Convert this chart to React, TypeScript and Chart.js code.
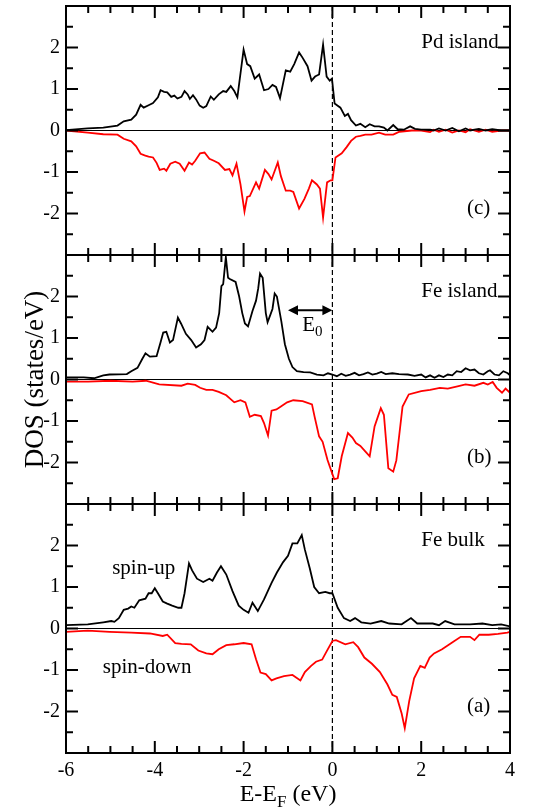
import React, { useEffect, useRef } from 'react';
import { Chart, registerables } from 'chart.js';

Chart.register(...registerables);

// ---------- Panel (c): Pd island ----------
const pdUpE = [
  -6.0, -5.51, -5.16, -4.84, -4.7, -4.53, -4.42, -4.32, -4.25, -4.14,
  -4.04, -3.93, -3.87, -3.79, -3.72, -3.63, -3.56, -3.49, -3.4, -3.33,
  -3.26, -3.21, -3.14, -3.07, -2.99, -2.91, -2.84, -2.74, -2.67, -2.56,
  -2.46, -2.39, -2.29, -2.21, -2.14, -2.0, -1.92, -1.85, -1.75, -1.65,
  -1.54, -1.44, -1.35, -1.27, -1.18, -1.05, -0.95, -0.86, -0.75, -0.67,
  -0.56, -0.47, -0.39, -0.3, -0.21, -0.13, -0.06, -0.01, 0.05, 0.18,
  0.28, 0.35, 0.42, 0.53, 0.63, 0.74, 0.84, 0.95, 1.05, 1.16,
  1.24, 1.37, 1.47, 1.61, 1.75, 1.86, 2.0, 2.2, 2.28, 2.4,
  2.55, 2.7, 2.85, 3.0, 3.1, 3.3, 3.45, 3.6, 3.8, 4.0,
];
const pdUpDos = [
  0.01, 0.05, 0.07, 0.12, 0.22, 0.26, 0.38, 0.62, 0.55, 0.61,
  0.66, 0.8, 0.97, 0.93, 0.92, 0.81, 0.84, 0.77, 0.81, 0.95,
  0.87, 0.76, 0.85, 0.75, 0.6, 0.55, 0.59, 0.82, 0.74, 0.87,
  0.95, 0.93, 1.07, 0.95, 0.8, 1.95, 1.6, 1.55, 1.25, 1.35,
  0.97, 1.0, 1.1, 1.05, 0.78, 1.45, 1.42, 1.6, 1.88, 1.75,
  1.55, 1.2, 1.3, 1.35, 2.07, 1.3, 1.2, 1.25, 0.65, 0.55,
  0.35, 0.4, 0.25, 0.12, 0.16, 0.08, 0.15, 0.1, 0.1, 0.07,
  0.0, 0.13, 0.03, 0.02, 0.1, 0.04, 0.02, 0.02, 0.0, 0.05,
  0.0, 0.06, -0.02, 0.05, 0.0, 0.04, 0.0, 0.03, 0.0, 0.0,
];
const pdDnE = [
  -6.0, -5.51, -5.16, -4.84, -4.7, -4.53, -4.42, -4.32, -4.23, -4.14,
  -4.04, -3.96, -3.89, -3.79, -3.74, -3.65, -3.54, -3.44, -3.33, -3.23,
  -3.16, -3.09, -2.98, -2.88, -2.77, -2.67, -2.56, -2.42, -2.32, -2.25,
  -2.16, -2.07, -1.98, -1.92, -1.86, -1.72, -1.65, -1.52, -1.44, -1.37,
  -1.23, -1.16, -1.05, -0.95, -0.88, -0.75, -0.63, -0.53, -0.46, -0.35,
  -0.28, -0.21, -0.12, -0.04, 0.0, 0.07, 0.21, 0.32, 0.42, 0.53,
  0.63, 0.74, 0.88, 1.05, 1.19, 1.37, 1.51, 1.79, 2.0, 2.2,
  2.28, 2.4, 2.55, 2.7, 2.85, 3.0, 3.1, 3.3, 3.45, 3.6,
  3.8, 4.0,
];
const pdDnDos = [
  0.0, -0.05, -0.09, -0.1, -0.2, -0.26, -0.38, -0.56, -0.6, -0.63,
  -0.65, -0.78, -0.95, -0.92, -0.97, -0.8, -0.75, -0.8, -0.97, -0.77,
  -0.82, -0.73, -0.55, -0.53, -0.68, -0.73, -0.79, -0.95, -0.93, -1.08,
  -0.8, -1.3, -1.95, -1.6, -1.58, -1.25, -1.4, -0.95, -1.05, -1.18,
  -0.77, -1.1, -1.45, -1.45, -1.48, -1.88, -1.65, -1.4, -1.2, -1.3,
  -1.4, -2.1, -1.25, -1.2, -1.2, -0.65, -0.55, -0.4, -0.25, -0.15,
  -0.13, -0.1, -0.1, -0.05, -0.1, -0.1, -0.03, 0.0, 0.0, -0.04,
  0.02, -0.03, 0.02, -0.05, 0.0, -0.04, 0.03, -0.03, 0.02, -0.03,
  0.0, 0.0,
];

// ---------- Panel (b): Fe island ----------
const feUpE = [
  -6.0, -5.6, -5.37, -5.16, -5.02, -4.63, -4.53, -4.39, -4.28, -4.21,
  -4.11, -3.96, -3.87, -3.81, -3.74, -3.66, -3.59, -3.48, -3.41, -3.3,
  -3.18, -3.07, -2.96, -2.88, -2.81, -2.7, -2.62, -2.55, -2.5, -2.46,
  -2.4, -2.35, -2.31, -2.18, -2.1, -2.03, -1.97, -1.9, -1.8, -1.72,
  -1.67, -1.63, -1.57, -1.5, -1.46, -1.4, -1.35, -1.3, -1.25, -1.15,
  -1.07, -0.98, -0.9, -0.8, -0.65, -0.5, -0.35, -0.2, -0.1, 0.0,
  0.1, 0.2, 0.3, 0.4, 0.5, 0.6, 0.7, 0.8, 0.9, 1.0,
  1.1, 1.2, 1.35, 1.5, 1.7, 1.85, 2.0, 2.1, 2.2, 2.3,
  2.4, 2.5, 2.6, 2.7, 2.8, 2.9, 3.0, 3.1, 3.2, 3.3,
  3.4, 3.5, 3.55, 3.65, 3.75, 3.85, 3.95, 4.0,
];
const feUpDos = [
  0.05, 0.05, 0.03, 0.1, 0.12, 0.13, 0.2, 0.28, 0.5, 0.63,
  0.55, 0.56, 0.9, 1.13, 1.15, 0.89, 0.95, 1.49, 1.35, 1.1,
  0.95, 0.77, 0.85, 0.95, 1.27, 1.15, 1.25, 1.6, 2.25, 2.3,
  2.95, 2.45, 2.42, 2.35, 2.0, 1.6, 1.35, 1.28, 1.65, 1.9,
  2.2, 2.55, 2.45, 1.6, 1.38, 1.55, 1.7, 2.07, 2.0, 1.4,
  0.85, 0.5, 0.3, 0.2, 0.18, 0.17, 0.12, 0.1, 0.15, 0.12,
  0.08, 0.14, 0.09, 0.12, 0.16, 0.1, 0.13, 0.17, 0.12, 0.14,
  0.18, 0.13, 0.15, 0.13, 0.12, 0.09, 0.12, 0.05, 0.1, 0.04,
  0.1, 0.06, 0.12, 0.1, 0.2, 0.18, 0.27, 0.22, 0.24, 0.15,
  0.12, 0.2, 0.22, 0.12, 0.1, 0.2, 0.15, 0.1,
];
const feDnE = [
  -6.0, -5.5, -5.0, -4.5, -4.2, -3.9, -3.4, -3.26, -3.09, -2.98,
  -2.84, -2.7, -2.56, -2.39, -2.21, -2.07, -1.96, -1.86, -1.75, -1.61,
  -1.54, -1.45, -1.37, -1.26, -1.16, -1.02, -0.88, -0.67, -0.46, -0.4,
  -0.3, -0.22, -0.11, 0.04, 0.12, 0.21, 0.35, 0.45, 0.53, 0.63,
  0.74, 0.84, 0.95, 1.09, 1.16, 1.26, 1.37, 1.44, 1.58, 1.72,
  2.0, 2.2, 2.42, 2.6, 2.84, 3.0, 3.2, 3.4, 3.5, 3.61,
  3.7, 3.82, 3.9, 4.0,
];
const feDnDos = [
  -0.05, -0.05, -0.03, -0.05, -0.03, -0.12, -0.15, -0.1, -0.13, -0.2,
  -0.25, -0.25, -0.3, -0.38, -0.55, -0.5, -0.55, -0.9, -0.85, -0.88,
  -1.05, -1.35, -0.75, -0.72, -0.65, -0.55, -0.5, -0.52, -0.6, -0.9,
  -1.37, -1.5, -1.94, -2.4, -2.38, -1.85, -1.29, -1.4, -1.53, -1.6,
  -1.73, -1.85, -1.13, -0.69, -0.85, -2.14, -2.22, -1.95, -0.65, -0.36,
  -0.28, -0.25, -0.2, -0.22, -0.16, -0.12, -0.15, -0.08, -0.12, -0.06,
  -0.2, -0.32, -0.22, -0.32,
];

// ---------- Panel (a): Fe bulk ----------
const bulkUpE = [
  -6.0, -5.51, -5.16, -4.98, -4.91, -4.81, -4.7, -4.6, -4.53, -4.46,
  -4.35, -4.21, -4.14, -4.07, -4.0, -3.93, -3.82, -3.72, -3.61, -3.47,
  -3.4, -3.33, -3.23, -3.16, -3.05, -2.91, -2.77, -2.7, -2.6, -2.51,
  -2.39, -2.25, -2.11, -2.0, -1.89, -1.8, -1.68, -1.54, -1.37, -1.25,
  -1.11, -1.0, -0.9, -0.79, -0.69, -0.62, -0.51, -0.41, -0.3, -0.16,
  -0.06, 0.0, 0.12, 0.26, 0.4, 0.51, 0.65, 0.86, 1.1, 1.28,
  1.56, 1.77, 1.91, 2.26, 2.4, 2.54, 2.75, 3.1, 3.38, 3.6,
  3.8, 4.0,
];
const bulkUpDos = [
  0.08, 0.1, 0.15, 0.18, 0.16, 0.25, 0.45, 0.48, 0.53, 0.5,
  0.68, 0.72, 0.85, 0.85, 0.97, 0.85, 0.65, 0.6, 0.55, 0.5,
  0.5, 0.85, 1.57, 1.4, 1.2, 1.12, 1.2, 1.15, 1.35, 1.5,
  1.3, 0.9, 0.55, 0.45, 0.38, 0.62, 0.42, 0.7, 1.1, 1.35,
  1.6, 1.75, 2.05, 2.05, 2.25, 1.9, 1.45, 1.0, 0.85, 0.88,
  0.85, 0.85, 0.5, 0.25, 0.18, 0.25, 0.15, 0.12, 0.18, 0.12,
  0.1, 0.25, 0.12, 0.12, 0.08, 0.18, 0.1, 0.1, 0.12, 0.08,
  0.1, 0.05,
];
const bulkDnE = [
  -6.0, -5.51, -5.02, -4.53, -4.11, -3.82, -3.72, -3.54, -3.4, -3.19,
  -3.02, -2.84, -2.7, -2.56, -2.39, -2.21, -2.0, -1.82, -1.72, -1.62,
  -1.5, -1.37, -1.26, -1.09, -0.9, -0.72, -0.62, -0.48, -0.37, -0.23,
  -0.13, 0.0, 0.08, 0.29, 0.47, 0.58, 0.72, 0.89, 1.07, 1.24,
  1.35, 1.45, 1.56, 1.63, 1.73, 1.84, 1.98, 2.08, 2.19, 2.29,
  2.47, 2.68, 2.89, 3.1, 3.2, 3.31, 3.52, 3.73, 3.94, 4.0,
];
const bulkDnDos = [
  -0.08, -0.05, -0.08, -0.1, -0.12, -0.18, -0.15, -0.35, -0.37, -0.38,
  -0.53, -0.6, -0.62, -0.5, -0.4, -0.38, -0.35, -0.38, -0.74, -1.06,
  -1.1, -1.25, -1.2, -1.15, -1.12, -1.25, -1.05, -0.9, -0.8, -0.75,
  -0.55, -0.3, -0.28, -0.38, -0.33, -0.45, -0.7, -0.85, -1.05, -1.35,
  -1.6, -1.65, -2.05, -2.4, -1.75, -1.2, -0.9, -0.95, -0.7, -0.6,
  -0.5, -0.35, -0.2, -0.2, -0.28, -0.15, -0.15, -0.13, -0.1, -0.08,
];

// ---------- Labels ----------
const panelIds = ['yC', 'yB', 'yA'];
const panelNames = ['Pd island', 'Fe island', 'Fe bulk'];
const panelTags = ['(c)', '(b)', '(a)'];
const xTickLabels = ['-6', '-4', '-2', '0', '2', '4'];
const yTickLabels = ['-2', '-1', '0', '1', '2'];
const yAxisTitle = 'DOS (states/eV)';
const spinUpLabel = 'spin-up';
const spinDownLabel = 'spin-down';

const SERIF = '"Liberation Serif", "DejaVu Serif", serif';
const UP_COLOR = '#000000';
const DN_COLOR = '#ff0000';

function pts(e: number[], d: number[]) {
  return e.map((x, i) => ({ x, y: d[i] }));
}

function drawSub(ctx: CanvasRenderingContext2D, main: string, sub: string, rest: string,
  cx: number, base: number, size: number, subSize: number, subDrop: number, align: 'center' | 'left') {
  ctx.font = `${size}px ${SERIF}`;
  const w1 = ctx.measureText(main).width;
  const w3 = ctx.measureText(rest).width;
  ctx.font = `${subSize}px ${SERIF}`;
  const w2 = ctx.measureText(sub).width;
  const total = w1 + w2 + w3;
  let x = align === 'center' ? cx - total / 2 : cx;
  ctx.textAlign = 'left';
  ctx.textBaseline = 'alphabetic';
  ctx.font = `${size}px ${SERIF}`;
  ctx.fillText(main, x, base);
  x += w1;
  ctx.font = `${subSize}px ${SERIF}`;
  ctx.fillText(sub, x, base + subDrop);
  x += w2;
  ctx.font = `${size}px ${SERIF}`;
  ctx.fillText(rest, x, base);
}

function seg(ctx: CanvasRenderingContext2D, x1: number, y1: number, x2: number, y2: number) {
  ctx.beginPath();
  ctx.moveTo(x1, y1);
  ctx.lineTo(x2, y2);
  ctx.stroke();
}

const decorPlugin = {
  id: 'decor',
  beforeDatasetsDraw(chart: any) {
    const { ctx, chartArea } = chart;
    const xs = chart.scales.x;
    ctx.save();
    ctx.strokeStyle = '#000';
    ctx.lineWidth = 1.2;
    for (const id of panelIds) {
      const ys = chart.scales[id];
      const y0 = ys.getPixelForValue(0);
      seg(ctx, xs.left, y0, xs.right, y0);
    }
    const xf = xs.getPixelForValue(0);
    ctx.setLineDash([5, 3]);
    seg(ctx, xf, chartArea.top, xf, chartArea.bottom);
    ctx.restore();
  },
  afterDraw(chart: any) {
    const ctx: CanvasRenderingContext2D = chart.ctx;
    const xs = chart.scales.x;
    ctx.save();
    ctx.setLineDash([]);
    ctx.strokeStyle = '#000';
    ctx.fillStyle = '#000';
    const xLeft = xs.getPixelForValue(-6);
    const xRight = xs.getPixelForValue(4);
    for (let p = 0; p < panelIds.length; p++) {
      const ys = chart.scales[panelIds[p]];
      const yTop = ys.getPixelForValue(3);
      const yBot = ys.getPixelForValue(-3);
      ctx.lineWidth = 2;
      ctx.strokeRect(xLeft, yTop, xRight - xLeft, yBot - yTop);
      // y ticks (inward, both sides), every 0.5
      for (let k = -5; k <= 5; k++) {
        const len = k % 2 === 0 ? 12 : 7;
        const py = ys.getPixelForValue(k / 2);
        seg(ctx, xLeft, py, xLeft + len, py);
        seg(ctx, xRight, py, xRight - len, py);
      }
      // x ticks (inward, top and bottom), every 0.5
      for (let k = -11; k <= 7; k++) {
        const len = k % 4 === 0 ? 12 : 7;
        const px = xs.getPixelForValue(k / 2);
        seg(ctx, px, yTop, px, yTop + len);
        seg(ctx, px, yBot, px, yBot - len);
      }
      ctx.font = `21px ${SERIF}`;
      ctx.textAlign = 'left';
      ctx.textBaseline = 'alphabetic';
      ctx.fillText(panelNames[p], xs.getPixelForValue(2.0), ys.getPixelForValue(2.0));
      ctx.fillText(panelTags[p], xs.getPixelForValue(3.03), ys.getPixelForValue(-2.02));
    }

    // spin labels in panel (a)
    const ya = chart.scales.yA;
    ctx.font = `21px ${SERIF}`;
    ctx.fillText(spinUpLabel, xs.getPixelForValue(-4.96), ya.getPixelForValue(1.32));
    ctx.fillText(spinDownLabel, xs.getPixelForValue(-5.17), ya.getPixelForValue(-1.08));

    // E0 arrow in panel (b)
    const yb = chart.scales.yB;
    const ay = yb.getPixelForValue(1.67);
    const ax1 = xs.getPixelForValue(-1.0);
    const ax2 = xs.getPixelForValue(0);
    ctx.lineWidth = 2;
    seg(ctx, ax1 + 6, ay, ax2 - 6, ay);
    ctx.beginPath();
    ctx.moveTo(ax1, ay);
    ctx.lineTo(ax1 + 10, ay - 5);
    ctx.lineTo(ax1 + 10, ay + 5);
    ctx.closePath();
    ctx.moveTo(ax2, ay);
    ctx.lineTo(ax2 - 10, ay - 5);
    ctx.lineTo(ax2 - 10, ay + 5);
    ctx.closePath();
    ctx.fill();
    drawSub(ctx, 'E', '0', '', xs.getPixelForValue(-0.68), yb.getPixelForValue(1.16), 21, 15, 5, 'left');

    // y axis title
    ctx.save();
    ctx.font = `27px ${SERIF}`;
    ctx.textAlign = 'center';
    ctx.textBaseline = 'middle';
    ctx.translate(36, (yb.getPixelForValue(3) + yb.getPixelForValue(-3)) / 2);
    ctx.rotate(-Math.PI / 2);
    ctx.fillText(yAxisTitle, 0, 0);
    ctx.restore();

    // x axis title
    drawSub(ctx, 'E-E', 'F', ' (eV)', (xLeft + xRight) / 2, 801, 24, 17, 6, 'center');
    ctx.restore();
  },
};

function yAxis(weight: number) {
  return {
    type: 'linear',
    position: 'left',
    stack: 'panels',
    stackWeight: 1,
    weight,
    min: -3,
    max: 3,
    grid: { display: false, drawTicks: false },
    border: { display: false },
    ticks: {
      stepSize: 0.5,
      autoSkip: false,
      padding: 6,
      color: '#000',
      font: { family: SERIF, size: 20 },
      callback: (v: number) => (yTickLabels.includes(String(v)) ? String(v) : ''),
    },
    afterFit: (s: any) => {
      s.width = 66;
      s.paddingTop = 0;
      s.paddingBottom = 0;
    },
  };
}

export default function App() {
  const ref = useRef<HTMLCanvasElement | null>(null);
  useEffect(() => {
    if (!ref.current) return;
    const ds = (e: number[], d: number[], color: string, axis: string) => ({
      data: pts(e, d),
      borderColor: color,
      backgroundColor: color,
      borderWidth: 1.8,
      pointRadius: 0,
      tension: 0,
      yAxisID: axis,
    });
    const chart = new Chart(ref.current, {
      type: 'line',
      data: {
        datasets: [
          ds(pdUpE, pdUpDos, UP_COLOR, 'yC'),
          ds(pdDnE, pdDnDos, DN_COLOR, 'yC'),
          ds(feUpE, feUpDos, UP_COLOR, 'yB'),
          ds(feDnE, feDnDos, DN_COLOR, 'yB'),
          ds(bulkUpE, bulkUpDos, UP_COLOR, 'yA'),
          ds(bulkDnE, bulkDnDos, DN_COLOR, 'yA'),
        ],
      },
      options: {
        responsive: false,
        animation: false,
        devicePixelRatio: 1,
        layout: { padding: { top: 6, right: 43, left: 0, bottom: 0 } },
        plugins: { legend: { display: false }, tooltip: { enabled: false } },
        scales: {
          x: {
            type: 'linear',
            min: -6,
            max: 4,
            grid: { display: false, drawTicks: false },
            border: { display: false },
            ticks: {
              stepSize: 0.5,
              autoSkip: false,
              maxRotation: 0,
              minRotation: 0,
              padding: 6,
              color: '#000',
              font: { family: SERIF, size: 20 },
              callback: (v: number) => (xTickLabels.includes(String(v)) ? String(v) : ''),
            },
            afterFit: (s: any) => {
              s.height = 57;
              s.paddingLeft = 0;
              s.paddingRight = 0;
            },
          },
          yC: yAxis(3),
          yB: yAxis(2),
          yA: yAxis(1),
        } as any,
      },
      plugins: [decorPlugin],
    } as any);
    return () => chart.destroy();
  }, []);
  return (
    <div style={{ position: 'absolute', left: 0, top: 0, width: 553, height: 810, background: '#fff' }}>
      <canvas ref={ref} width={553} height={810} />
    </div>
  );
}
